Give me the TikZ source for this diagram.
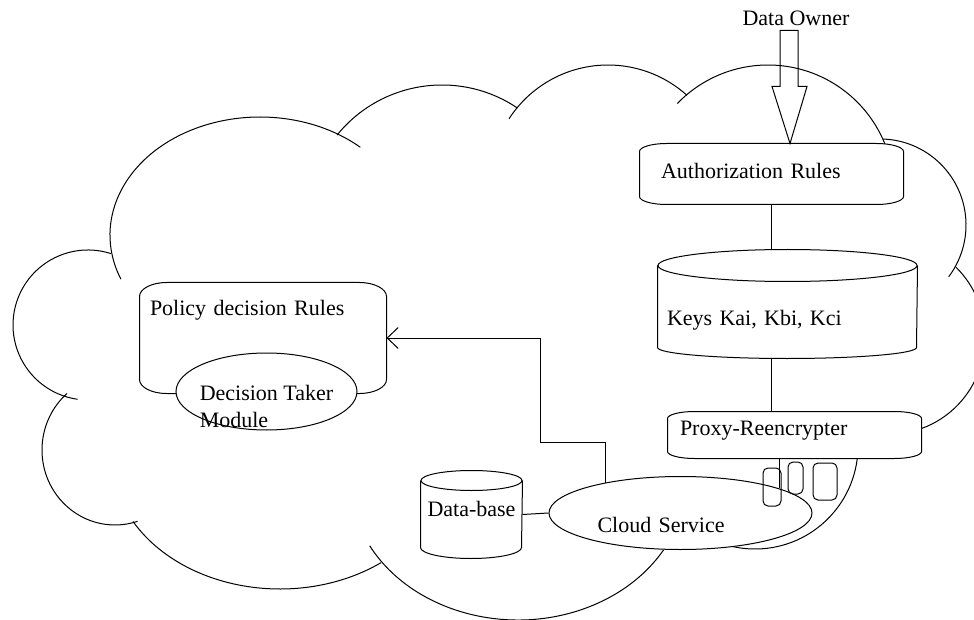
\documentclass[tikz,border=0pt]{standalone}
\usepackage{fontspec}
\setmainfont{Liberation Serif}
\usetikzlibrary{shapes.geometric, arrows.meta}

\begin{document}
\begin{tikzpicture}[
	x=1pt, y=-1pt, line width=1pt,
	every node/.style = {font=\fontsize{22}{27}\selectfont, inner sep=0pt},
	box/.style = {rectangle, fill=white, align=left},
	oval/.style = {ellipse, draw, fill=white, align=left}]
	
	\useasboundingbox (0,0) rectangle (974,620);
	
	% cloud outline, one arc per bump
	\foreach \cx/\cy/\rx/\ry/\s/\e in {260/235/150/118/158/312, 442/220/135/135/219/304,
		608/183/118/118/213/312, 768/191/126/126/224/339, 880/225/86/86/-88/37,
		890/337/95/97/-46/71, 755/446/103/103/-1/125, 518/480/168/140/152/30,
		280/458/168/131/151/53, 115/450/73/75/229/72, 88/325/75/75/288/98}
	{
		\draw ({\cx+\rx*cos(\s)},{\cy+\ry*sin(\s)}) arc[start angle=\s, end angle=\e, x radius=\rx, y radius=\ry];
	}
	
	\node (owner) at (796,18) {Data Owner};
	\node[box, minimum width=263pt, minimum height=60pt, text width=221pt, inner xsep=21pt,
		text height=15pt, text depth=5pt] (auth) at (771.5,174) {Authorization Rules};
	\node[box, minimum width=259pt, minimum height=108pt, text width=241pt, inner xsep=9pt,
		text height=47pt, text depth=5pt] (keys) at (787.5,304) {Keys Kai, Kbi, Kci};
	\node[box, minimum width=253pt, minimum height=46pt, text width=229pt, inner xsep=12pt,
		text height=15pt, text depth=15pt] (proxy) at (794.5,435) {Proxy-Reencrypter};
	\node[box, minimum width=246pt, minimum height=110pt, text width=226pt, inner xsep=10pt,
		text height=15pt, text depth=61pt] (policy) at (263,338) {Policy decision Rules};
	\node[box, minimum width=101pt, minimum height=87pt, text height=15pt, text depth=12pt]
		(base) at (471.5,514.5) {Data-base};
	
	\foreach \b/\h/\v in {auth/27/8, proxy/27/7, policy/27/14}
	{
		\draw ([shift={(\h,0)}]\b.north west) -- ([shift={(-\h,0)}]\b.north east)
			.. controls +(0.55*\h,0) and +(0,-0.55*\v) .. ([shift={(0,\v)}]\b.north east)
			-- ([shift={(0,-\v)}]\b.south east)
			.. controls +(0,0.55*\v) and +(0.55*\h,0) .. ([shift={(-\h,0)}]\b.south east)
			-- ([shift={(\h,0)}]\b.south west)
			.. controls +(-0.55*\h,0) and +(0,0.55*\v) .. ([shift={(0,-\v)}]\b.south west)
			-- ([shift={(0,\v)}]\b.north west)
			.. controls +(0,-0.55*\v) and +(-0.55*\h,0) .. ([shift={(\h,0)}]\b.north west);
	}
	\foreach \b/\rx/\rt/\rb in {keys/129.5/16/11, base/50.5/10/11}
	{
		\draw ([shift={(0,\rt)}]\b.north west) -- ([shift={(0,-\rb)}]\b.south west)
			arc[start angle=180, end angle=0, x radius=\rx, y radius=\rb]
			-- ([shift={(0,\rt)}]\b.north east);
		\draw ([shift={(0,\rt)}]\b.north) ellipse[x radius=\rx, y radius=\rt];
	}
	
	\node[oval, minimum width=181pt, minimum height=77pt, inner xsep=-4pt, inner ysep=-14pt,
		text height=76pt, text depth=5pt] (taker) at (266.5,391.5) {Decision Taker\\Module};
	\node[oval, minimum width=263pt, minimum height=73pt, text width=166pt,
		text height=43pt, text depth=5pt] (cloud) at (680.5,513) {Cloud Service};
	
	\path (owner.south |- auth.north) ++(-6,0) coordinate (tip);
	\draw (tip) -- ++(17,-57) -- ++(-9,0) -- ++(0,-56) -- ++(-18,0) -- ++(0,56) -- ++(-8,0) -- cycle;
	
	\draw (auth.south) -- (auth.south |- keys.north);
	\draw (auth.south |- keys.south) -- (auth.south |- proxy.north);
	\draw (cloud.14) -- (cloud.14 |- proxy.south);
	\draw (base.east) -- (cloud.west);
	\coordinate (bend) at (540,442);
	\draw[-{Straight Barb[length=11pt, width=21pt]}] (cloud.158) |- (bend) |- (policy.east);
	
	\foreach \x/\y/\w/\h in {763/468/18/38, 788/462/15/32, 813/463/24/37}
		\draw[rounded corners=5pt] (\x,\y) rectangle ++(\w,\h);
\end{tikzpicture}
\end{document}
